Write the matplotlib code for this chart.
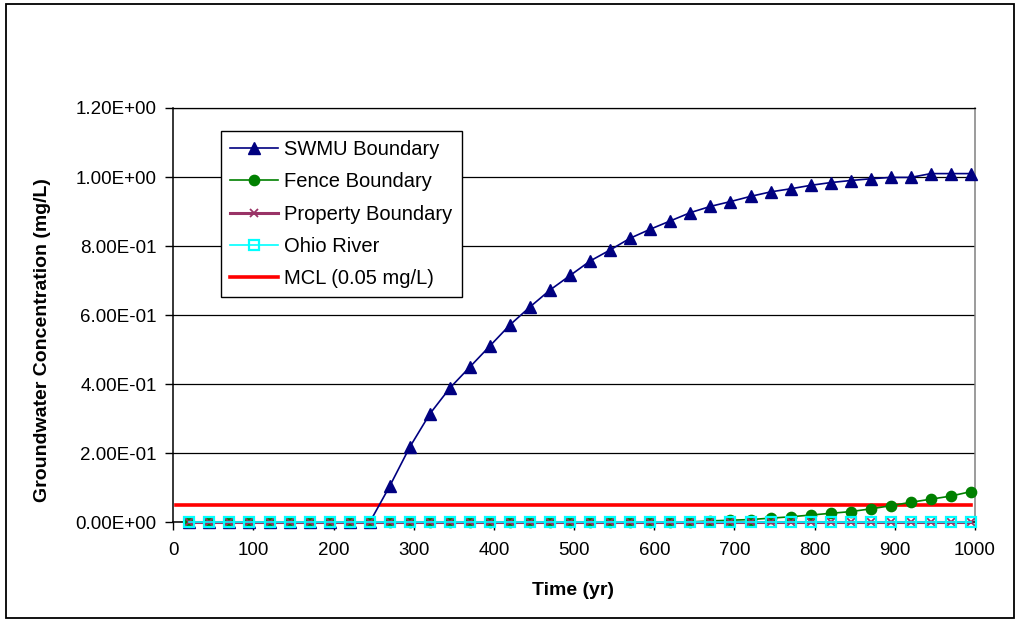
import matplotlib
matplotlib.use("Agg")
import matplotlib.pyplot as plt
from matplotlib.lines import Line2D
from matplotlib.patches import Rectangle
from matplotlib.ticker import FuncFormatter, MultipleLocator

plt.rcParams['font.family'] = ['Liberation Sans', 'DejaVu Sans']

# ---- data ----
time_yr = [20, 45, 70, 95, 120, 145, 170, 195, 220, 245,
           270, 295, 320, 345, 370, 395, 420, 445, 470, 495,
           520, 545, 570, 595, 620, 645, 670, 695, 720, 745,
           770, 795, 820, 845, 870, 895, 920, 945, 970, 995]

swmu = [0, 0, 0, 0, 0, 0, 0, 0, 0, 0,
        0.105, 0.218, 0.314, 0.389, 0.450, 0.511, 0.572, 0.624, 0.673, 0.715,
        0.757, 0.789, 0.823, 0.849, 0.873, 0.897, 0.915, 0.929, 0.944, 0.957,
        0.966, 0.976, 0.984, 0.990, 0.995, 0.999, 0.999, 1.010, 1.010, 1.010]

fence = [0, 0, 0, 0, 0, 0, 0, 0, 0, 0,
         0, 0, 0, 0, 0, 0, 0, 0, 0, 0,
         0, 0, 0, 0, 0, 0.001, 0.004, 0.006, 0.008, 0.012,
         0.016, 0.021, 0.026, 0.031, 0.039, 0.048, 0.058, 0.067, 0.076, 0.089]

prop = [0, 0, 0, 0, 0, 0, 0, 0, 0, 0,
        0, 0, 0, 0, 0, 0, 0, 0, 0, 0,
        0, 0, 0, 0, 0, 0, 0, 0, 0, 0,
        0, 0, 0, 0, 0, 0, 0, 0, 0, 0]

ohio = [0, 0, 0, 0, 0, 0, 0, 0, 0, 0,
        0, 0, 0, 0, 0, 0, 0, 0, 0, 0,
        0, 0, 0, 0, 0, 0, 0, 0, 0, 0,
        0, 0, 0, 0, 0, 0, 0, 0, 0, 0]

mcl_time = [3, 995]
mcl_value = [0.05, 0.05]

labels = ["SWMU Boundary", "Fence Boundary", "Property Boundary",
          "Ohio River", "MCL (0.05 mg/L)"]

# ---- figure ----
W, H = 1021, 623
fig = plt.figure(figsize=(W / 100, H / 100), dpi=100)
fig.patch.set_facecolor("white")

# outer chart border
fig.patches.append(Rectangle((6 / W, 1 - 618 / H), (1014 - 6) / W, (618 - 4) / H,
                             transform=fig.transFigure, fill=False,
                             edgecolor="black", linewidth=1.3))

left, right, top, bottom = 173.3, 975.0, 108.0, 522.3
ax = fig.add_axes([left / W, 1 - bottom / H, (right - left) / W, (bottom - top) / H])

ax.plot(mcl_time, mcl_value, color="#FF0000", lw=2.6, zorder=2.5)
l1, = ax.plot(time_yr, swmu, color="#000080", lw=1.2, marker="^", ms=9,
              markeredgecolor="#000080", markerfacecolor="#000080", zorder=3,
              clip_on=False)
l2, = ax.plot(time_yr, fence, color="#008000", lw=1.2, marker="o", ms=7.4,
              markeredgecolor="#008000", markerfacecolor="#008000", zorder=3.1,
              clip_on=False)
l3, = ax.plot(time_yr, prop, color="#993366", lw=2.2, marker="x", ms=6,
              markeredgewidth=1.3, markeredgecolor="#993366", zorder=3.2,
              clip_on=False)
l4, = ax.plot(time_yr, ohio, color="#00FFFF", lw=1.2, marker="s", ms=7,
              markeredgecolor="#00FFFF", markerfacecolor="none",
              markeredgewidth=1.6, zorder=3.3, clip_on=False)

ax.set_xlim(0, 1000)
ax.set_ylim(0, 1.2)
ax.xaxis.set_major_locator(MultipleLocator(100))
ax.yaxis.set_major_locator(MultipleLocator(0.2))
ax.yaxis.set_major_formatter(FuncFormatter(lambda v, p: f"{v:.2E}"))

ax.grid(axis="y", color="black", lw=0.9, zorder=1)
ax.set_axisbelow(True)
for s in ["left", "bottom"]:
    ax.spines[s].set_color("black")
    ax.spines[s].set_linewidth(1.1)
ax.spines["top"].set_color("black")
ax.spines["top"].set_linewidth(0.9)
ax.spines["right"].set_color("#808080")
ax.spines["right"].set_linewidth(1.1)

ax.tick_params(axis="both", direction="out", length=6, width=1, color="black",
               labelsize=13.5)
ax.tick_params(axis="x", pad=8)
ax.tick_params(axis="y", pad=6)

ax.set_xlabel("Time (yr)", fontsize=14, fontweight="bold")
ax.set_ylabel("Groundwater Concentration (mg/L)", fontsize=14, fontweight="bold")
ax.xaxis.set_label_coords((573 - left) / (right - left), -(582 - bottom) / (bottom - top))
ax.yaxis.set_label_coords(-(left - 51) / (right - left), (bottom - 340) / (bottom - top))

mcl_handle = Line2D([], [], color="#FF0000", lw=2.6)
leg = ax.legend([l1, l2, l3, l4, mcl_handle], labels,
                loc="upper left",
                bbox_to_anchor=((221 - left) / (right - left), (bottom - 131) / (bottom - top)),
                borderaxespad=0, fontsize=14.5, frameon=True, fancybox=False,
                edgecolor="black", framealpha=1, handlelength=2.4,
                labelspacing=0.66, borderpad=0.45, handletextpad=0.3)
leg.get_frame().set_linewidth(1.0)
leg.set_zorder(10)

fig.savefig("out.png", dpi=100, facecolor="white")
